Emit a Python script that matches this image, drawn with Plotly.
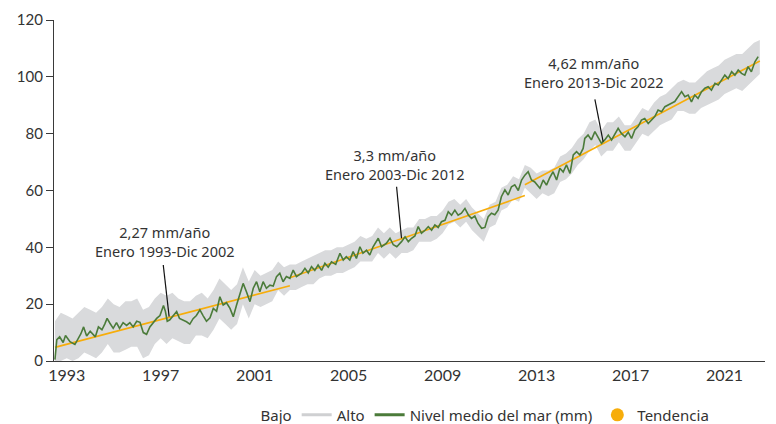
import plotly.graph_objects as go

# --- Nivel medio del mar (mm) ---
nivel_t = [1993.00, 1993.08, 1993.20, 1993.35, 1993.45, 1993.64, 1993.85, 1994.00, 1994.10, 1994.22,
           1994.35, 1994.50, 1994.62, 1994.72, 1994.85, 1995.00, 1995.12, 1995.22, 1995.34, 1995.48,
           1995.62, 1995.75, 1995.90, 1996.05, 1996.19, 1996.33, 1996.48, 1996.62, 1996.76, 1996.90,
           1997.04, 1997.18, 1997.33, 1997.47, 1997.62, 1997.70, 1997.78, 1997.89, 1998.03, 1998.18,
           1998.30, 1998.45, 1998.60, 1998.74, 1998.88, 1999.02, 1999.17, 1999.31, 1999.45, 1999.60,
           1999.74, 1999.88, 2000.02, 2000.16, 2000.30, 2000.45, 2000.59, 2000.73, 2000.87, 2001.01,
           2001.15, 2001.30, 2001.44, 2001.58, 2001.72, 2001.86, 2002.00, 2002.15, 2002.29, 2002.43,
           2002.57, 2002.71, 2002.85, 2003.00, 2003.14, 2003.28, 2003.50, 2003.64, 2003.78, 2003.92,
           2004.06, 2004.20, 2004.35, 2004.49, 2004.63, 2004.77, 2004.95, 2005.13, 2005.27, 2005.40,
           2005.55, 2005.69, 2005.83, 2005.98, 2006.11, 2006.26, 2006.40, 2006.54, 2006.76, 2006.90,
           2007.10, 2007.26, 2007.40, 2007.55, 2007.75, 2007.90, 2008.04, 2008.18, 2008.32, 2008.46,
           2008.60, 2008.75, 2008.89, 2009.03, 2009.17, 2009.31, 2009.45, 2009.60, 2009.74, 2009.88,
           2010.02, 2010.16, 2010.30, 2010.45, 2010.60, 2010.73, 2010.87, 2011.01, 2011.16, 2011.30,
           2011.44, 2011.58, 2011.72, 2011.86, 2012.00, 2012.15, 2012.29, 2012.43, 2012.57, 2012.72,
           2012.86, 2013.00, 2013.14, 2013.28, 2013.42, 2013.55, 2013.64, 2013.78, 2013.92, 2014.06,
           2014.20, 2014.35, 2014.49, 2014.63, 2014.77, 2014.92, 2015.06, 2015.20, 2015.34, 2015.48,
           2015.55, 2015.69, 2015.83, 2015.98, 2016.12, 2016.26, 2016.40, 2016.55, 2016.69, 2016.83,
           2016.97, 2017.11, 2017.26, 2017.40, 2017.54, 2017.68, 2017.82, 2017.96, 2018.10, 2018.25,
           2018.39, 2018.53, 2018.67, 2018.82, 2018.96, 2019.10, 2019.24, 2019.38, 2019.52, 2019.67,
           2019.81, 2019.95, 2020.09, 2020.23, 2020.37, 2020.52, 2020.66, 2020.80, 2020.94, 2021.09,
           2021.23, 2021.37, 2021.51, 2021.65, 2021.80, 2021.94, 2022.08, 2022.22, 2022.36, 2022.50,
           2022.64, 2022.79, 2022.93]
nivel_mm = [0.5, 7.5, 8.5, 6.5, 9.0, 6.8, 5.8, 8.0, 9.5, 12.0,
            8.8, 10.5, 9.5, 8.5, 12.0, 11.0, 13.0, 15.0, 13.3, 11.5,
            13.5, 11.5, 13.5, 12.5, 13.5, 12.0, 14.0, 13.6, 10.0, 9.4,
            12.0, 13.5, 15.0, 16.0, 19.5, 17.5, 14.0, 14.5, 16.0, 17.4,
            15.0, 14.5, 13.8, 13.0, 14.9, 16.0, 18.0, 15.9, 14.0, 15.2,
            18.5, 17.5, 22.6, 19.7, 20.5, 18.5, 15.6, 19.7, 23.2, 27.3,
            24.4, 20.9, 25.6, 27.9, 24.4, 27.9, 25.6, 26.7, 26.4, 29.7,
            30.9, 27.9, 29.7, 29.1, 32.0, 29.7, 30.9, 32.6, 31.0, 33.2,
            31.9, 33.8, 31.9, 34.4, 33.0, 34.9, 34.0, 37.9, 35.5, 36.7,
            35.5, 38.5, 36.1, 40.2, 37.9, 39.0, 37.3, 40.2, 43.2, 40.2,
            41.4, 43.2, 40.9, 40.2, 42.0, 43.7, 42.0, 43.2, 44.0, 47.3,
            45.0, 46.0, 47.3, 46.0, 47.9, 47.0, 49.0, 49.5, 52.5, 51.3,
            53.1, 51.3, 52.0, 53.7, 51.3, 50.2, 51.0, 48.4, 46.7, 47.0,
            50.8, 52.0, 51.5, 53.1, 57.8, 60.2, 58.4, 61.3, 62.0, 60.0,
            63.7, 65.4, 66.6, 63.7, 63.0, 61.5, 60.8, 63.7, 61.9, 64.5,
            66.6, 63.7, 67.8, 66.5, 69.0, 66.0, 72.5, 73.7, 72.5, 74.8,
            78.3, 79.5, 77.8, 80.7, 78.5, 76.6, 77.8, 79.5, 77.8, 80.1,
            81.9, 80.1, 78.9, 80.5, 78.3, 81.3, 82.5, 84.8, 85.3, 83.6,
            84.8, 86.0, 88.3, 87.7, 89.5, 90.0, 90.7, 91.3, 93.0, 94.8,
            93.0, 93.6, 91.2, 93.6, 92.4, 94.8, 96.0, 96.5, 95.3, 97.7,
            97.1, 98.9, 100.6, 99.4, 101.8, 100.6, 102.4, 101.2, 100.6, 103.6,
            101.8, 105.3, 107.1]

# --- Bajo / Alto band ---
banda_t = [1993.00 + 0.25 * i for i in range(121)]
bajo_mm = [0, 0, 1, 0, 1, 3, 2, 1, 3, 6, 3, 3, 4, 5, 5, 1, 2, 6, 8, 6,
           8, 7, 6, 6, 9, 9, 8, 11, 15, 13, 11, 13, 20, 15, 20, 19, 20, 21, 25, 23,
           25, 25, 26, 27, 27, 29, 30, 30, 31, 31, 32, 33, 35, 35, 35, 38, 36, 38, 36, 38,
           38, 39, 42, 42, 42, 43, 45, 48, 49, 47, 49, 46, 44, 42, 47, 48, 53, 54, 57, 56,
           61, 59, 57, 59, 58, 59, 63, 64, 66, 69, 71, 74, 76, 72, 74, 74, 77, 74, 74, 77,
           80, 79, 81, 83, 84, 85, 88, 88, 87, 87, 89, 90, 91, 92, 94, 95, 96, 95, 97, 99,
           101]
alto_mm = [14, 17, 16, 15, 17, 19, 18, 17, 19, 22, 20, 19, 21, 21, 22, 18, 19, 22, 24, 23,
           24, 22, 21, 21, 23, 24, 22, 25, 29, 27, 25, 27, 33, 28, 32, 30, 31, 32, 35, 33,
           34, 34, 35, 36, 37, 38, 39, 39, 40, 40, 41, 42, 44, 43, 44, 47, 45, 47, 45, 46,
           47, 47, 50, 50, 51, 51, 53, 56, 57, 55, 57, 54, 52, 50, 55, 56, 61, 62, 65, 64,
           69, 68, 66, 67, 67, 68, 72, 73, 75, 78, 80, 84, 85, 81, 84, 84, 86, 83, 83, 86,
           89, 88, 91, 93, 94, 96, 98, 99, 98, 98, 100, 102, 103, 104, 106, 107, 108, 108, 110, 112,
           113]

# --- Tendencia (three linear fits), end points ---
tend_periodos = [(1993.0, 2003.0), (2003.0, 2013.0), (2013.0, 2023.0)]
tend_valores = [(4.8, 26.5), (29.3, 58.2), (62.0, 105.6)]

anios_tick = [1993, 1997, 2001, 2005, 2009, 2013, 2017, 2021]
y_ticks = [0, 20, 40, 60, 80, 100, 120]

# (text, text x, text centre y, leader start, leader end)
anotaciones = [
    ("2,27 mm/año<br>Enero 1993-Dic 2002", 1997.68, 42.2, (1997.61, 33.8), (1997.86, 15.6)),
    ("3,3 mm/año<br>Enero 2003-Dic 2012", 2007.47, 69.1, (2007.54, 61.3), (2007.75, 43.2)),
    ("4,62 mm/año<br>Enero 2013-Dic 2022", 2015.94, 101.4, (2015.98, 92.1), (2016.33, 77.2)),
]

GRIS = "#d9dadc"
VERDE = "#4b7b3a"
NARANJA = "#f7ad0a"
TXT = "#333333"
FONT = "Noto Sans"

fig = go.Figure()

fig.add_trace(go.Scatter(x=banda_t, y=bajo_mm, mode="lines", line=dict(width=0, color=GRIS),
                         showlegend=False, hoverinfo="skip"))
fig.add_trace(go.Scatter(x=banda_t, y=alto_mm, mode="lines", line=dict(width=0, color=GRIS),
                         fill="tonexty", fillcolor=GRIS, showlegend=False, hoverinfo="skip"))

for (t0, t1), (v0, v1) in zip(tend_periodos, tend_valores):
    fig.add_trace(go.Scatter(x=[t0, t1], y=[v0, v1], mode="lines",
                             line=dict(color=NARANJA, width=1.6), showlegend=False))

fig.add_trace(go.Scatter(x=nivel_t, y=nivel_mm, mode="lines", line=dict(color=VERDE, width=1.6),
                         showlegend=False))

# legend entries
fig.add_trace(go.Scatter(x=[None], y=[None], mode="lines", name="Bajo",
                         line=dict(color="rgba(0,0,0,0)", width=0)))
fig.add_trace(go.Scatter(x=[None], y=[None], mode="lines", name="Alto",
                         line=dict(color="#cfd0d2", width=3)))
fig.add_trace(go.Scatter(x=[None], y=[None], mode="lines", name="Nivel medio del mar (mm)",
                         line=dict(color=VERDE, width=3)))
fig.add_trace(go.Scatter(x=[None], y=[None], mode="markers", name="Tendencia",
                         marker=dict(color=NARANJA, size=13, symbol="circle")))

for txt, tx, ty, (x0, y0), (x1, y1) in anotaciones:
    fig.add_shape(type="line", x0=x0, y0=y0, x1=x1, y1=y1, xref="x", yref="y",
                  line=dict(color="#111111", width=1.2))
    fig.add_annotation(x=tx, y=ty, text=txt, showarrow=False, xref="x", yref="y",
                       xanchor="center", yanchor="middle", align="center",
                       font=dict(family=FONT, size=14.5, color=TXT))

# the page places the figure 8px from the top-left corner (body margin),
# so the margins below are shifted by that amount
fig.update_layout(
    width=776, height=424,
    margin=dict(l=46, r=19, t=12, b=71, autoexpand=False),
    plot_bgcolor="white", paper_bgcolor="white",
    font=dict(family=FONT, color=TXT),
    legend=dict(orientation="h", xref="container", yref="container",
                x=0.9105, xanchor="right", y=0.040, yanchor="middle",
                traceorder="normal",
                font=dict(family=FONT, size=15, color=TXT), bgcolor="rgba(0,0,0,0)",
                itemwidth=30),
)
fig.update_xaxes(range=[1992.96, 2023.22], showgrid=False, zeroline=False,
                 showline=True, linecolor="#3a3a3a", linewidth=1.2,
                 tickvals=[a + 0.5 for a in anios_tick], ticktext=[str(a) for a in anios_tick],
                 ticks="", tickfont=dict(family="Lato", size=16, color=TXT))
fig.update_yaxes(range=[0, 120], showgrid=False, zeroline=False,
                 showline=True, linecolor="#3a3a3a", linewidth=1.2,
                 tickvals=y_ticks, ticks="outside", ticklen=7, tickcolor="#3a3a3a",
                 tickfont=dict(family="Lato", size=15, color=TXT))

fig.write_html("out.html")
